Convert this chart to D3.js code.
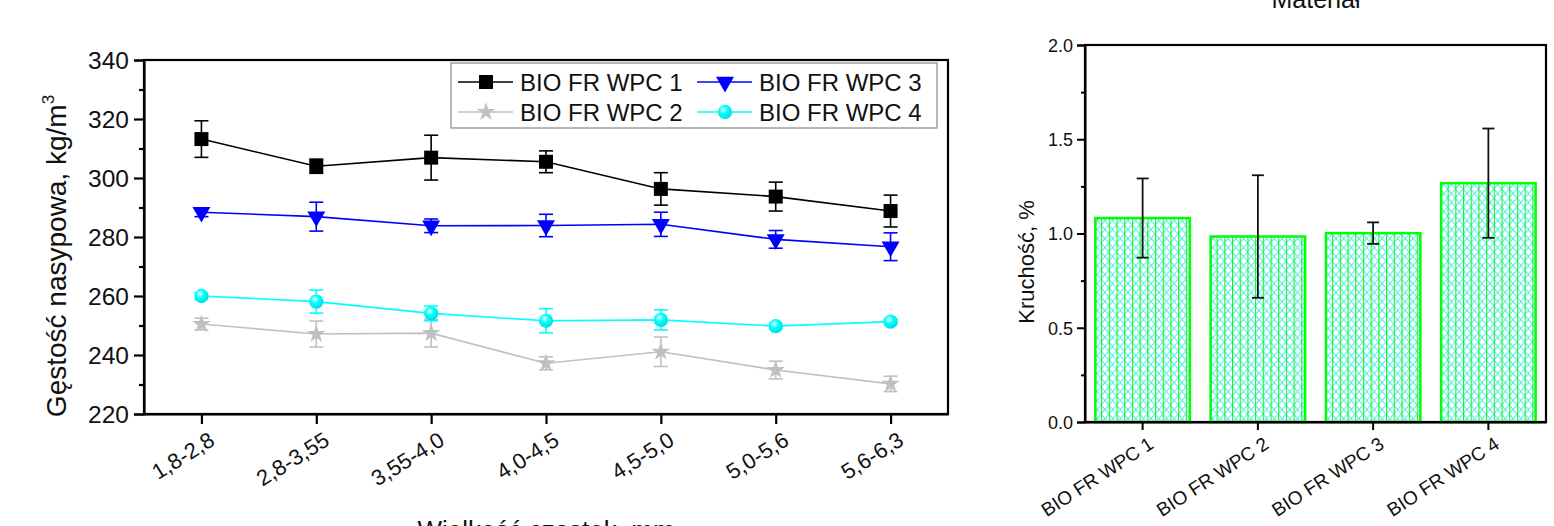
<!DOCTYPE html>
<html>
<head>
<meta charset="utf-8">
<script src="https://cdn.jsdelivr.net/npm/d3@7"></script>
<style>
  body { margin: 0; background: #fff; }
  svg { display: block; font-family: "Liberation Sans", Arial, sans-serif; }
  text { fill: #111; }
</style>
</head>
<body>
<svg id="chart" width="1554" height="526"></svg>
<script>
// --- data ---
const sizes = ["1,8-2,8", "2,8-3,55", "3,55-4,0", "4,0-4,5", "4,5-5,0", "5,0-5,6", "5,6-6,3"];
const wpc1 = [313.2, 304.0, 306.9, 305.5, 296.3, 293.7, 288.8];
const wpc1Err = [6.2, 2.4, 7.6, 3.7, 5.5, 4.9, 5.4];
const wpc2 = [250.5, 247.1, 247.4, 237.2, 241.1, 234.9, 230.2];
const wpc2Err = [2.0, 4.4, 4.7, 2.2, 5.0, 3.0, 2.6];
const wpc3 = [288.4, 286.9, 283.8, 283.9, 284.3, 279.2, 276.7];
const wpc3Err = [1.5, 4.9, 2.3, 3.8, 4.1, 3.0, 4.7];
const wpc4 = [260.0, 258.1, 254.1, 251.6, 251.9, 249.8, 251.3];
const wpc4Err = [1.0, 3.9, 2.5, 4.1, 3.4, 1.0, 1.0];

const materials = ["BIO FR WPC 1", "BIO FR WPC 2", "BIO FR WPC 3", "BIO FR WPC 4"];
const kruchosc = [1.082, 0.984, 1.002, 1.267];
const kruchoscErr = [0.21, 0.325, 0.057, 0.29];

const series = [
    { name: "BIO FR WPC 1", values: wpc1, err: wpc1Err, color: "#000000", symbol: d3.symbolSquare, size: 196, rot: 0 },
    { name: "BIO FR WPC 2", values: wpc2, err: wpc2Err, color: "#c0c0c0", symbol: d3.symbolStar, size: 110, rot: 0 },
    { name: "BIO FR WPC 3", values: wpc3, err: wpc3Err, color: "#0000ff", symbol: d3.symbolTriangle, size: 140, rot: 180 },
    { name: "BIO FR WPC 4", values: wpc4, err: wpc4Err, color: "#00ffff", symbol: d3.symbolCircle, size: 160, rot: 0 }
];

const svg = d3.select("#chart");
const defs = svg.append("defs");

const grad = defs.append("radialGradient").attr("id", "ball")
    .attr("cx", "40%").attr("cy", "35%").attr("r", "65%");
grad.append("stop").attr("offset", "0%").attr("stop-color", "#e6ffff");
grad.append("stop").attr("offset", "45%").attr("stop-color", "#00ffff");
grad.append("stop").attr("offset", "100%").attr("stop-color", "#00dede");

const pat = defs.append("pattern").attr("id", "hatch")
    .attr("patternUnits", "userSpaceOnUse")
    .attr("width", 7.7).attr("height", 9);
pat.append("rect").attr("width", 7.7).attr("height", 9).attr("fill", "#fff");
pat.append("path").attr("d", "M0,0L7.7,9M7.7,0L0,9")
    .attr("stroke", "#44eeee").attr("stroke-width", 1);
pat.append("line").attr("x1", 0.5).attr("x2", 0.5).attr("y1", 0).attr("y2", 9)
    .attr("stroke", "#22ee22").attr("stroke-width", 1.2);

// ---------- left chart ----------
const L = { x0: 144, x1: 948, y0: 60, y1: 414 };
const x = d3.scalePoint().domain(sizes).range([L.x0, L.x1]).padding(0.5);
const y = d3.scaleLinear().domain([220, 340]).range([L.y1, L.y0]);

const gl = svg.append("g");

gl.append("g").attr("transform", `translate(${L.x0},0)`)
    .call(d3.axisLeft(y).tickValues(d3.range(230, 340, 20)).tickSize(5).tickFormat(""))
    .call(g => g.select(".domain").remove());
gl.append("g").attr("transform", `translate(${L.x0},0)`)
    .call(d3.axisLeft(y).tickValues(d3.range(220, 341, 20)).tickSize(10).tickPadding(5))
    .call(g => g.selectAll("text").style("font-size", "24.5px").attr("dy", "0.36em"));
gl.append("g").attr("transform", `translate(0,${L.y1})`)
    .call(d3.axisBottom(x).tickSize(10).tickSizeOuter(0))
    .call(g => g.selectAll("text")
        .style("font-size", "22px")
        .attr("text-anchor", "end")
        .attr("transform", "translate(6,17) rotate(-32)")
        .attr("dy", "0.7em").attr("y", 0));
gl.selectAll(".tick line, .domain").attr("stroke", "#000").attr("stroke-width", 2.2);

gl.append("rect").attr("x", L.x0).attr("y", L.y0)
    .attr("width", L.x1 - L.x0).attr("height", L.y1 - L.y0)
    .attr("fill", "none").attr("stroke", "#000").attr("stroke-width", 2.2);

const line = d3.line().x((d, i) => x(sizes[i])).y(d => y(d));

series.forEach(s => {
    const g = gl.append("g");
    g.append("path").datum(s.values).attr("d", line)
        .attr("fill", "none").attr("stroke", s.color).attr("stroke-width", 1.6);
    const eb = g.selectAll(".eb").data(s.values).enter().append("g");
    eb.append("line")
        .attr("x1", (d, i) => x(sizes[i])).attr("x2", (d, i) => x(sizes[i]))
        .attr("y1", (d, i) => y(d + s.err[i])).attr("y2", (d, i) => y(d - s.err[i]))
        .attr("stroke", s.color).attr("stroke-width", 1.6);
    [1, -1].forEach(sign => {
        eb.append("line")
            .attr("x1", (d, i) => x(sizes[i]) - 7).attr("x2", (d, i) => x(sizes[i]) + 7)
            .attr("y1", (d, i) => y(d + sign * s.err[i])).attr("y2", (d, i) => y(d + sign * s.err[i]))
            .attr("stroke", s.color).attr("stroke-width", 1.6);
    });
    g.selectAll(".mk").data(s.values).enter().append("path")
        .attr("d", d3.symbol().type(s.symbol).size(s.size))
        .attr("transform", (d, i) => `translate(${x(sizes[i])},${y(d)}) rotate(${s.rot})`)
        .attr("fill", s.symbol === d3.symbolCircle ? "url(#ball)" : s.color);
});

// legend
const leg = gl.append("g");
leg.append("rect").attr("x", 451).attr("y", 63).attr("width", 486).attr("height", 65)
    .attr("fill", "#fff").attr("stroke", "#888").attr("stroke-width", 1.2);
const legPos = [
    { lx: 458, ty: 82 }, { lx: 458, ty: 112 }, { lx: 697, ty: 82 }, { lx: 697, ty: 112 }
];
series.forEach((s, i) => {
    const p = legPos[i];
    const g = leg.append("g");
    g.append("line").attr("x1", p.lx).attr("x2", p.lx + 55).attr("y1", p.ty).attr("y2", p.ty)
        .attr("stroke", s.color).attr("stroke-width", 1.6);
    g.append("path").attr("d", d3.symbol().type(s.symbol).size(s.size))
        .attr("transform", `translate(${p.lx + 28},${p.ty}) rotate(${s.rot})`)
        .attr("fill", s.symbol === d3.symbolCircle ? "url(#ball)" : s.color);
    g.append("text").attr("x", p.lx + 62).attr("y", p.ty).attr("dy", "0.36em")
        .style("font-size", "24px").text(s.name);
});

gl.append("text")
    .attr("transform", `translate(66,256) rotate(-90)`)
    .attr("text-anchor", "middle").style("font-size", "28px")
    .text("Gęstość nasypowa, kg/m")
    .append("tspan").attr("dy", "-0.7em").style("font-size", "17px").text("3");

gl.append("text").attr("x", (L.x0 + L.x1) / 2).attr("y", 539)
    .attr("text-anchor", "middle").style("font-size", "26px")
    .text("Wielkość cząstek, mm");

// ---------- right chart ----------
const R = { x0: 1085, x1: 1546, y0: 45, y1: 422 };
const xb = d3.scaleBand().domain(materials).range([R.x0, R.x1]).paddingInner(0.18).paddingOuter(0.09);
const yb = d3.scaleLinear().domain([0, 2]).range([R.y1, R.y0]);

const gr = svg.append("g");

gr.selectAll(".bar").data(kruchosc).enter().append("rect")
    .attr("x", (d, i) => xb(materials[i]))
    .attr("y", d => yb(d))
    .attr("width", xb.bandwidth())
    .attr("height", d => yb(0) - yb(d))
    .attr("fill", "url(#hatch)")
    .attr("stroke", "#00ff00").attr("stroke-width", 2.5);

const cx = i => xb(materials[i]) + xb.bandwidth() / 2;
gr.selectAll(".ebv").data(kruchosc).enter().append("line")
    .attr("x1", (d, i) => cx(i)).attr("x2", (d, i) => cx(i))
    .attr("y1", (d, i) => yb(d + kruchoscErr[i])).attr("y2", (d, i) => yb(d - kruchoscErr[i]))
    .attr("stroke", "#111").attr("stroke-width", 1.8);
[1, -1].forEach(sign => {
    gr.selectAll(".ebc" + sign).data(kruchosc).enter().append("line")
        .attr("x1", (d, i) => cx(i) - 6).attr("x2", (d, i) => cx(i) + 6)
        .attr("y1", (d, i) => yb(d + sign * kruchoscErr[i])).attr("y2", (d, i) => yb(d + sign * kruchoscErr[i]))
        .attr("stroke", "#111").attr("stroke-width", 1.8);
});

gr.append("g").attr("transform", `translate(${R.x0},0)`)
    .call(d3.axisLeft(yb).tickValues([0.25, 0.75, 1.25, 1.75]).tickSize(4).tickFormat(""))
    .call(g => g.select(".domain").remove());
gr.append("g").attr("transform", `translate(${R.x0},0)`)
    .call(d3.axisLeft(yb).tickValues([0, 0.5, 1, 1.5, 2]).tickSize(8).tickPadding(4).tickFormat(d3.format(".1f")))
    .call(g => g.selectAll("text").style("font-size", "18px").attr("dy", "0.36em"));
gr.append("g").attr("transform", `translate(0,${R.y1})`)
    .call(d3.axisBottom(xb).tickSize(8).tickSizeOuter(0))
    .call(g => g.selectAll("text")
        .style("font-size", "19px")
        .attr("text-anchor", "end")
        .attr("transform", "translate(5,14) rotate(-33)")
        .attr("dy", "0.7em").attr("y", 0));
gr.selectAll(".tick line, .domain").attr("stroke", "#000").attr("stroke-width", 2);

gr.append("rect").attr("x", R.x0).attr("y", R.y0)
    .attr("width", R.x1 - R.x0).attr("height", R.y1 - R.y0)
    .attr("fill", "none").attr("stroke", "#000").attr("stroke-width", 2.2);

gr.append("text")
    .attr("transform", `translate(1034,262) rotate(-90)`)
    .attr("text-anchor", "middle").style("font-size", "22px")
    .text("Kruchość, %");

gr.append("text").attr("x", 1316).attr("y", 8)
    .attr("text-anchor", "middle").style("font-size", "25px")
    .text("Materiał");
</script>
</body>
</html>
